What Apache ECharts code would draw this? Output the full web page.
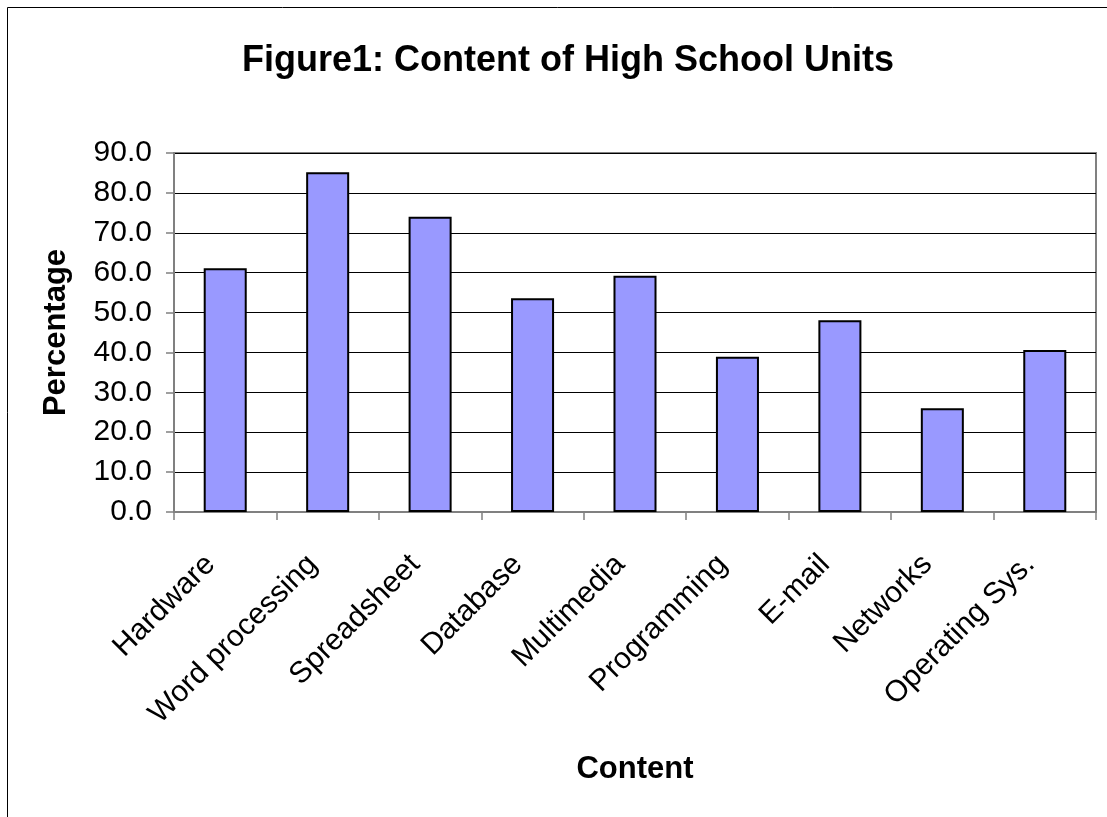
<!DOCTYPE html>
<html>
<head>
<meta charset="utf-8">
<title>Figure1: Content of High School Units</title>
<script src="https://cdn.jsdelivr.net/npm/echarts@6/dist/echarts.min.js"></script>
<style>
  html, body { margin: 0; padding: 0; background: #fff; }
  #chart { width: 1107px; height: 817px; }
</style>
</head>
<body>
<div id="chart"></div>
<script>
// chart data
var categories = ['Hardware', 'Word processing', 'Spreadsheet', 'Database', 'Multimedia',
  'Programming', 'E-mail', 'Networks', 'Operating Sys.']
var percentages = [61.1, 85.2, 74.0, 53.6, 59.2, 38.9, 48.1, 26.0, 40.6]
var yTicks = [0, 10, 20, 30, 40, 50, 60, 70, 80, 90]

var font = "'Liberation Sans', Arial, sans-serif"

var chart = echarts.init(document.getElementById('chart'))
chart.setOption({
  animation: false,
  backgroundColor: '#fff',
  textStyle: { fontFamily: font },
  title: {
    text: 'Figure1: Content of High School Units',
    left: 237,
    top: 38,
    textStyle: {
      color: '#000',
      fontWeight: 'bold',
      fontSize: 36,
      fontFamily: font
    }
  },
  // outer frame of the original chart
  graphic: [{
    type: 'rect',
    shape: { x: 7.5, y: 7.5, width: 1120, height: 830 },
    style: { fill: null, stroke: '#000', lineWidth: 1 },
    silent: true
  }],
  grid: {
    left: 174,
    right: 11,
    top: 153,
    bottom: 305,
    show: true,
    backgroundColor: '#fff',
    borderColor: '#808080',
    borderWidth: 2
  },
  xAxis: {
    type: 'category',
    data: categories,
    name: 'Content',
    nameLocation: 'middle',
    nameGap: 242,
    nameTextStyle: { color: '#000', fontWeight: 'bold', fontSize: 31, fontFamily: font },
    axisLine: { lineStyle: { color: '#808080', width: 2 } },
    axisTick: { show: true, length: 8, lineStyle: { color: '#808080', width: 1.5 } },
    axisLabel: {
      interval: 0,
      rotate: 45,
      margin: 33,
      padding: [0, 21, 0, 0],
      color: '#000',
      fontSize: 30,
      fontFamily: font
    }
  },
  yAxis: {
    type: 'value',
    min: yTicks[0],
    max: yTicks[yTicks.length - 1],
    interval: 10,
    name: 'Percentage',
    nameLocation: 'middle',
    nameRotate: 90,
    nameGap: 102,
    nameTextStyle: { color: '#000', fontWeight: 'bold', fontSize: 31, fontFamily: font },
    axisLine: { show: true, lineStyle: { color: '#808080', width: 2 } },
    axisTick: { show: true, length: 8, lineStyle: { color: '#808080', width: 1.5 } },
    axisLabel: {
      margin: 22,
      color: '#000',
      fontSize: 30,
      fontFamily: font,
      formatter: function (v) { return v.toFixed(1) }
    },
    splitLine: { lineStyle: { color: '#000', width: 1 } }
  },
  series: [{
    name: 'Percentage',
    type: 'bar',
    data: percentages,
    barWidth: '42%',
    itemStyle: {
      color: '#9999FF',
      borderColor: '#000',
      borderWidth: 2
    }
  }]
})
</script>
</body>
</html>
